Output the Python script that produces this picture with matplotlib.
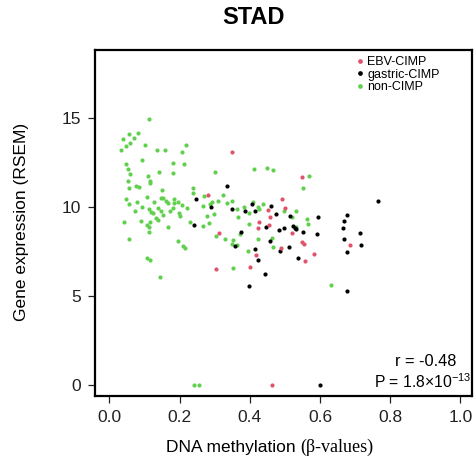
import matplotlib
matplotlib.use("Agg")
import matplotlib.pyplot as plt
from matplotlib.lines import Line2D
from matplotlib.offsetbox import TextArea, HPacker, AnchoredOffsetbox

plt.rcParams["font.family"] = ["Liberation Sans", "DejaVu Sans"]
plt.rcParams["mathtext.fontset"] = "custom"
plt.rcParams["mathtext.rm"] = "Liberation Sans"
plt.rcParams["mathtext.it"] = "Liberation Sans:italic"
plt.rcParams["mathtext.bf"] = "Liberation Sans:bold"

# DNA methylation (beta) vs gene expression
non_cimp_x = [
    0.113, 0.055, 0.081, 0.040, 0.069, 0.058, 0.048, 0.034, 0.101, 0.137,
    0.159, 0.219, 0.207, 0.094, 0.180, 0.212, 0.048, 0.053, 0.142, 0.181,
    0.059, 0.110, 0.117, 0.115, 0.054, 0.075, 0.085, 0.057, 0.150, 0.237,
    0.238, 0.046, 0.106, 0.146, 0.153, 0.184, 0.269, 0.055, 0.079, 0.092,
    0.073, 0.128, 0.161, 0.166, 0.184, 0.195, 0.208, 0.220, 0.267, 0.113,
    0.118, 0.123, 0.138, 0.147, 0.154, 0.172, 0.182, 0.199, 0.200, 0.133,
    0.139, 0.043, 0.090, 0.106, 0.115, 0.114, 0.112, 0.168, 0.231, 0.267,
    0.057, 0.195, 0.211, 0.215, 0.106, 0.117, 0.143, 0.301, 0.412, 0.449,
    0.465, 0.324, 0.291, 0.286, 0.308, 0.334, 0.348, 0.363, 0.383, 0.409,
    0.437, 0.399, 0.423, 0.426, 0.496, 0.533, 0.521, 0.278, 0.297, 0.365,
    0.285, 0.304, 0.329, 0.351, 0.348, 0.364, 0.371, 0.399, 0.533, 0.424,
    0.464, 0.465, 0.395, 0.351, 0.570, 0.552, 0.562, 0.567, 0.630, 0.240,
    0.256,
]
non_cimp_y = [
    14.94, 14.08, 14.16, 13.82, 13.86, 13.58, 13.44, 13.22, 13.48, 13.20,
    13.22, 13.50, 13.07, 12.64, 12.49, 12.43, 12.40, 12.13, 11.98, 11.91,
    11.84, 11.76, 11.48, 11.37, 11.46, 11.16, 11.13, 11.07, 10.97, 11.09,
    10.77, 10.47, 10.55, 10.49, 10.49, 10.47, 10.62, 10.17, 10.26, 10.02,
    9.78, 10.26, 10.34, 10.24, 10.22, 10.30, 10.11, 9.96, 10.06, 9.89,
    9.74, 9.64, 9.93, 9.78, 9.55, 9.78, 9.93, 9.65, 9.51, 9.37,
    9.29, 9.18, 9.23, 8.99, 9.14, 8.89, 8.61, 8.88, 9.14, 8.93,
    8.22, 8.09, 7.83, 7.68, 7.15, 7.02, 6.05, 11.98, 12.15, 12.19,
    12.08, 10.66, 10.26, 10.17, 10.31, 10.20, 10.35, 9.91, 9.98, 10.26,
    10.15, 9.66, 10.02, 9.87, 9.79, 9.79, 9.44, 9.48, 9.61, 9.42,
    9.10, 8.37, 8.22, 8.15, 7.90, 7.88, 8.48, 9.06, 8.89, 8.20,
    8.24, 7.75, 7.53, 6.57, 11.72, 11.07, 9.31, 9.06, 5.62, 0.0,
    0.0,
]

gastric_cimp_x = [
    0.248, 0.242, 0.335, 0.290, 0.348, 0.405, 0.387, 0.414, 0.459, 0.475,
    0.514, 0.359, 0.374, 0.445, 0.484, 0.498, 0.522, 0.529, 0.533, 0.457,
    0.512, 0.537, 0.416, 0.424, 0.442, 0.397, 0.765, 0.595, 0.677, 0.669,
    0.665, 0.715, 0.551, 0.592, 0.668, 0.716, 0.678, 0.676, 0.486, 0.601,
]
gastric_cimp_y = [
    10.45, 8.99, 11.20, 10.00, 9.87, 10.19, 9.78, 9.78, 10.04, 9.61,
    9.49, 7.83, 8.58, 8.88, 8.69, 8.82, 8.93, 8.84, 8.76, 8.09,
    7.74, 7.15, 7.64, 7.04, 6.22, 5.56, 10.35, 9.46, 9.57, 9.20,
    8.80, 8.54, 8.61, 8.47, 8.22, 7.88, 7.47, 5.30, 7.55, 0.0,
]

ebv_cimp_x = [
    0.350, 0.281, 0.453, 0.492, 0.499, 0.312, 0.427, 0.422, 0.456, 0.520,
    0.488, 0.419, 0.305, 0.400, 0.548, 0.548, 0.555, 0.685, 0.583, 0.558,
    0.462, 0.457,
]
ebv_cimp_y = [
    13.11, 10.66, 9.83, 10.43, 9.94, 8.54, 9.14, 8.84, 8.99, 8.52,
    7.71, 7.30, 6.53, 6.65, 11.69, 8.02, 7.90, 7.88, 7.38, 6.98,
    0.0, 9.46,
]

groups = ["EBV-CIMP", "gastric-CIMP", "non-CIMP"]
colors = {"EBV-CIMP": "#DF536B", "gastric-CIMP": "black", "non-CIMP": "#61D04F"}

x_ticks = [0.0, 0.2, 0.4, 0.6, 0.8, 1.0]
y_ticks = [0, 5, 10, 15]

fig = plt.figure(figsize=(4.75, 4.59), dpi=100)
ax = fig.add_axes([0.2, 0.1362, 0.7937, 0.7538])

ax.scatter(non_cimp_x, non_cimp_y, s=9, color=colors["non-CIMP"], linewidths=0)
ax.scatter(gastric_cimp_x, gastric_cimp_y, s=9, color=colors["gastric-CIMP"], linewidths=0)
ax.scatter(ebv_cimp_x, ebv_cimp_y, s=9, color=colors["EBV-CIMP"], linewidths=0)

ax.set_xlim(-0.041, 1.033)
ax.set_ylim(-0.646, 18.79)
ax.set_xticks(x_ticks)
ax.set_xticklabels([f"{t:.1f}" for t in x_ticks])
ax.set_yticks(y_ticks)
ax.set_yticklabels([str(t) for t in y_ticks])
ax.tick_params(direction="out", length=5, width=0.9, labelsize=12.5, colors="#222222")
ax.tick_params(axis="x", pad=5)
ax.tick_params(axis="y", pad=5)
for sp in ax.spines.values():
    sp.set_linewidth(1.6)

handles = [
    Line2D([], [], linestyle="none", marker="o", markersize=3.4,
           markerfacecolor=colors[g], markeredgewidth=0, label=g)
    for g in groups
]
ax.legend(handles=handles, loc="upper left", bbox_to_anchor=(356 / 475, 1 - 56 / 459),
          bbox_transform=fig.transFigure, frameon=False, fontsize=9,
          handlelength=0.6, handletextpad=0.3, labelspacing=0.05,
          borderpad=0, borderaxespad=0)

fig.text(254 / 475, 1 - 18 / 459, "STAD", ha="center", va="center",
         fontsize=17, fontweight="bold")
fig.text(22 / 475, 1 - 222 / 459, "Gene expression (RSEM)", rotation=90,
         ha="center", va="center", fontsize=12.5)

# x label: sans part plus serif "(β-values)"
xlab = HPacker(children=[
    TextArea("DNA methylation ", textprops=dict(fontsize=12.5, family="Liberation Sans")),
    TextArea("(β-values)", textprops=dict(fontsize=13, family="Liberation Serif")),
], align="baseline", pad=0, sep=0)
fig.add_artist(AnchoredOffsetbox(loc="center", child=xlab, frameon=False, pad=0, borderpad=0,
                                 bbox_to_anchor=(270 / 475, 1 - 447 / 459),
                                 bbox_transform=fig.transFigure))

fig.text(426 / 475, 1 - 361 / 459, "r = -0.48", ha="center", va="center", fontsize=11.8)
fig.text(423 / 475, 1 - 382 / 459, "P = 1.8×10$^{-13}$", ha="center", va="center", fontsize=11.3)

fig.savefig("out.png", dpi=100)
